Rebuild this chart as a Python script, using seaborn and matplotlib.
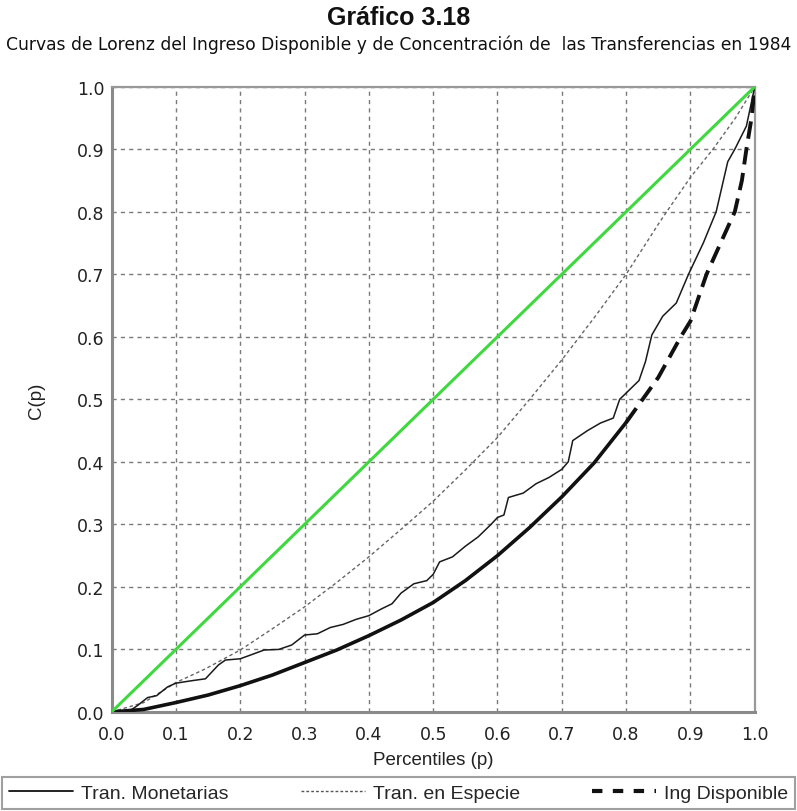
import numpy as np
import pandas as pd
import matplotlib
matplotlib.use("Agg")
import matplotlib.pyplot as plt
from matplotlib.lines import Line2D
import seaborn as sns

# ---------------- data ----------------
p_mon = [0, 0.03, 0.04, 0.056, 0.07, 0.087, 0.1, 0.125, 0.146, 0.166, 0.177, 0.2, 0.216,
         0.237, 0.26, 0.28, 0.3, 0.32, 0.34, 0.36, 0.38, 0.4, 0.42, 0.436, 0.45, 0.47,
         0.49, 0.5, 0.51, 0.53, 0.55, 0.57, 0.59, 0.6, 0.61, 0.617, 0.64, 0.66, 0.68,
         0.7, 0.71, 0.717, 0.74, 0.76, 0.78, 0.79, 0.8, 0.82, 0.83, 0.84, 0.857, 0.878,
         0.897, 0.92, 0.94, 0.958, 0.969, 0.987, 1.0]
c_mon = [0, 0.003, 0.01, 0.023, 0.026, 0.04, 0.046, 0.05, 0.053, 0.075, 0.083, 0.085, 0.091,
         0.099, 0.10, 0.107, 0.123, 0.125, 0.135, 0.14, 0.148, 0.154, 0.165, 0.173, 0.19, 0.205,
         0.21, 0.22, 0.24, 0.248, 0.265, 0.28, 0.30, 0.311, 0.315, 0.343, 0.35, 0.365, 0.375,
         0.388, 0.40, 0.434, 0.45, 0.462, 0.47, 0.50, 0.51, 0.53, 0.56, 0.603, 0.633, 0.654,
         0.70, 0.75, 0.80, 0.88, 0.90, 0.937, 1.0]

p_esp = [0, 0.05, 0.1, 0.146, 0.2, 0.25, 0.3, 0.35, 0.4, 0.45, 0.5, 0.55, 0.6, 0.65, 0.7,
         0.75, 0.8, 0.85, 0.863, 0.9, 0.935, 0.97, 1.0]
c_esp = [0, 0.015, 0.047, 0.069, 0.099, 0.133, 0.168, 0.207, 0.248, 0.292, 0.337, 0.387,
         0.439, 0.50, 0.563, 0.63, 0.70, 0.78, 0.80, 0.855, 0.90, 0.95, 1.0]

p_ing = [0, 0.05, 0.1, 0.15, 0.2, 0.25, 0.3, 0.35, 0.4, 0.45, 0.5, 0.55, 0.6, 0.65, 0.7,
         0.75, 0.8, 0.85, 0.885, 0.9, 0.925, 0.95, 0.969, 0.98, 0.987, 0.995, 1.0]
c_ing = [0, 0.004, 0.015, 0.027, 0.042, 0.059, 0.079, 0.099, 0.122, 0.147, 0.175, 0.21,
         0.25, 0.295, 0.344, 0.398, 0.463, 0.535, 0.60, 0.625, 0.70, 0.757, 0.80, 0.85,
         0.90, 0.95, 1.0]

p_eq = [0, 1]
c_eq = [0, 1]

title = "Gráfico 3.18"
subtitle = "Curvas de Lorenz del Ingreso Disponible y de Concentración de  las Transferencias en 1984"
ticks = [0.0, 0.1, 0.2, 0.3, 0.4, 0.5, 0.6, 0.7, 0.8, 0.9, 1.0]
tick_labels = ["0.0", "0.1", "0.2", "0.3", "0.4", "0.5", "0.6", "0.7", "0.8", "0.9", "1.0"]
legend_labels = ["Tran. Monetarias", "Tran. en Especie", "Ing Disponible"]

# ---------------- figure ----------------
sns.set_theme(style="white")
plt.rcParams['font.family'] = ['Liberation Sans', 'DejaVu Sans']

fig = plt.figure(figsize=(7.97, 8.12), dpi=100)
ax = fig.add_axes([0.140, 0.122, 0.807, 0.770])

df_mon = pd.DataFrame({"p": p_mon, "c": c_mon})
df_esp = pd.DataFrame({"p": p_esp, "c": c_esp})
df_ing = pd.DataFrame({"p": p_ing, "c": c_ing})
df_eq = pd.DataFrame({"p": p_eq, "c": c_eq})

split = 0.8
ing_solid = df_ing[df_ing["p"] <= split]
ing_dash = df_ing[df_ing["p"] >= split]

sns.lineplot(data=df_eq, x="p", y="c", ax=ax, color="#3fd83f", lw=2.2,
             sort=False, estimator=None, zorder=5)
sns.lineplot(data=df_esp, x="p", y="c", ax=ax, color="#666666", lw=1.0,
             sort=False, estimator=None, zorder=4).lines[-1].set_dashes((2.5, 2))
sns.lineplot(data=df_mon, x="p", y="c", ax=ax, color="#1a1a1a", lw=1.1,
             sort=False, estimator=None, zorder=4)
sns.lineplot(data=ing_solid, x="p", y="c", ax=ax, color="#111111", lw=2.6,
             sort=False, estimator=None, zorder=4)
sns.lineplot(data=ing_dash, x="p", y="c", ax=ax, color="#111111", lw=2.8,
             sort=False, estimator=None, zorder=4).lines[-1].set_dashes((4.5, 2.2))

ax.set_xlim(0, 1)
ax.set_ylim(0, 1)
ax.set_xticks(ticks)
ax.set_yticks(ticks)
ax.set_xticklabels(tick_labels, fontsize=12.5, family="DejaVu Sans", color="#222222")
ax.set_yticklabels(tick_labels, fontsize=12.5, family="DejaVu Sans", color="#222222")
ax.tick_params(axis="x", direction="inout", length=7, width=1.2, color="#222222", pad=6)
ax.tick_params(axis="y", direction="out", length=4, width=1.2, color="#222222", pad=1)
ax.grid(True, color="#7a7a7a", lw=1.0, linestyle=(0, (3, 3)))
for s in ["left", "bottom"]:
    ax.spines[s].set_color("#8a8a8a")
    ax.spines[s].set_linewidth(2.2)
for s in ["top", "right"]:
    ax.spines[s].set_color("#999999")
    ax.spines[s].set_linewidth(1.6)

ax.set_xlabel("Percentiles (p)", fontsize=13.5, color="#222222", labelpad=6)
ax.set_ylabel("C(p)", fontsize=13.5, color="#222222", labelpad=23)

fig.text(0.5, 0.978, title, ha="center", va="center", fontsize=18,
         fontweight="bold", color="#111111")
fig.text(0.5, 0.945, subtitle, ha="center", va="center", fontsize=12.3,
         family="DejaVu Sans", color="#111111")

handles = [
    Line2D([], [], color="#111111", lw=1.3),
    Line2D([], [], color="#555555", lw=1.0, dashes=(2, 1.5)),
    Line2D([], [], color="#111111", lw=3.0, dashes=(2.5, 2.5)),
]
leg = fig.legend(handles, legend_labels, loc="lower left", ncol=3, mode="expand",
                 bbox_to_anchor=(0.003, 0.003, 0.994, 0.05), fontsize=14,
                 frameon=True, fancybox=False, edgecolor="#888888", handlelength=3.3,
                 handletextpad=0.4, columnspacing=1.0, borderpad=0.35,
                 borderaxespad=0.0)
leg.get_frame().set_linewidth(1.5)

fig.savefig("out.png", dpi=100)
